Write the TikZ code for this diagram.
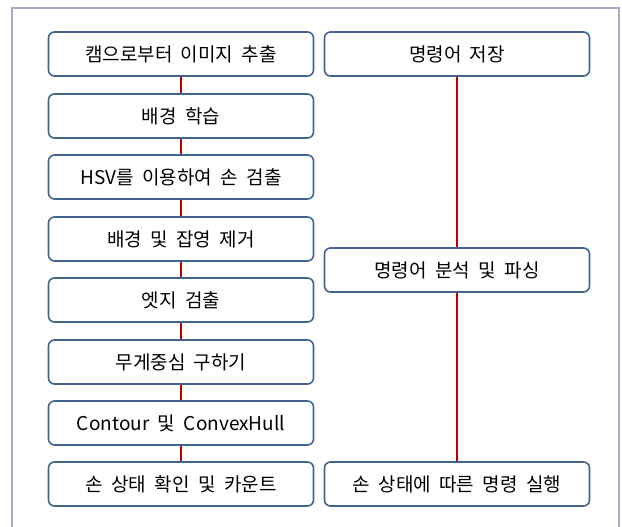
\documentclass[tikz,border=0pt]{standalone}
\usepackage{fontspec}
\setmainfont{Noto Sans CJK KR}
\definecolor{boxblue}{HTML}{41648F}
\definecolor{linered}{HTML}{C00000}
\definecolor{frame}{HTML}{B3A2CC}
\newcommand\myboxfont{\fontsize{19pt}{21pt}\selectfont\spaceskip=8.5pt\relax}
\begin{document}
\begin{tikzpicture}[x=1pt,y=-1pt,
  stepbox/.style={draw=boxblue, line width=1.6pt, rounded corners=6pt, fill=white,
    minimum width=265pt, minimum height=44pt, inner sep=0pt,
    font=\myboxfont, text=black},
  link/.style={draw=linered, line width=2.8pt}]
\useasboundingbox (0,0) rectangle (622,527);
\draw[frame, line width=1.6pt] (12,527) -- (12,8) -- (619,8) -- (619,527);
% left column
\node[stepbox] (l1) at (181,54) {캠으로부터 이미지 추출};
\node[stepbox] (l2) at (181,116) {배경 학습};
\node[stepbox] (l3) at (181,177) {HSV를 이용하여 손 검출};
\node[stepbox] (l4) at (181,239) {배경 및 잡영 제거};
\node[stepbox] (l5) at (181,300) {엣지 검출};
\node[stepbox] (l6) at (181,362) {무게중심 구하기};
\node[stepbox] (l7) at (181,423) {Contour 및 ConvexHull};
\node[stepbox] (l8) at (181,484) {손 상태 확인 및 카운트};
% right column
\node[stepbox] (r1) at (457,54) {명령어 저장};
\node[stepbox] (r2) at (457,270) {명령어 분석 및 파싱};
\node[stepbox] (r3) at (457,484) {손 상태에 따른 명령 실행};
% connectors
\foreach \a/\b in {l1/l2,l2/l3,l3/l4,l4/l5,l5/l6,l6/l7,l7/l8,r1/r2,r2/r3}
  \path[link] (\a.south) -- (\b.north);
\end{tikzpicture}
\end{document}
